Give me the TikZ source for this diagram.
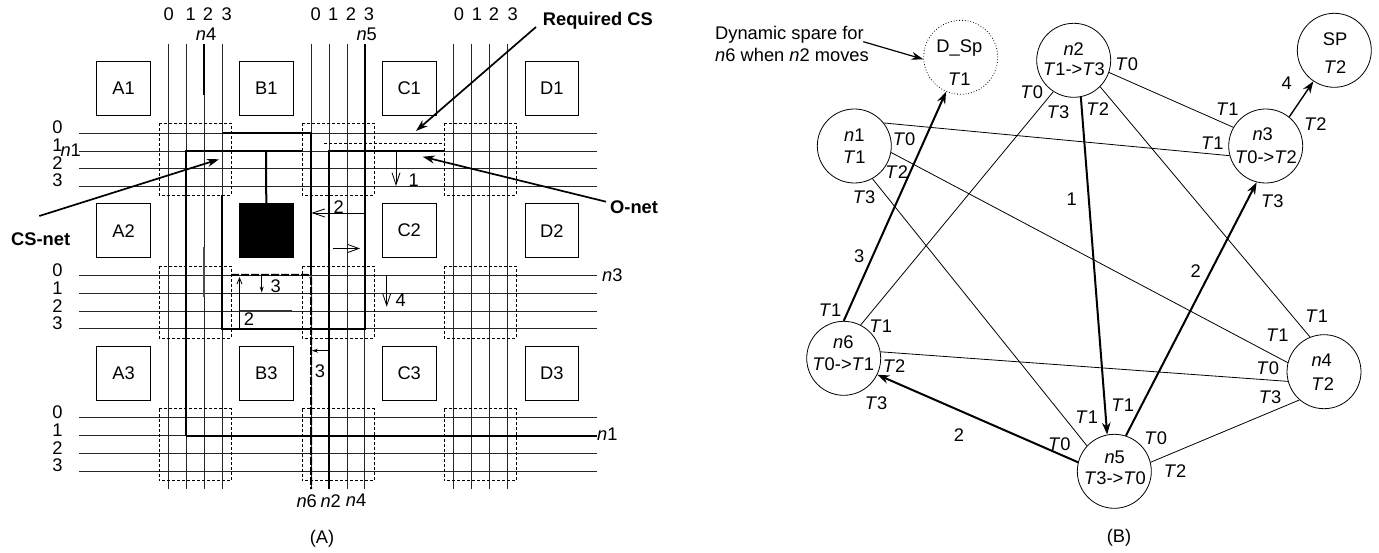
\documentclass[tikz,border=0pt]{standalone}
\usepackage{fontspec}
\setmainfont{Liberation Sans}
\usetikzlibrary{arrows.meta, positioning, calc}
\newcommand{\Tn}[1]{\textit{T}#1}
\newcommand{\nn}[1]{\textit{n}#1}
\begin{document}
\begin{tikzpicture}[x=1pt,y=-1pt,
  every node/.style={font=\fontsize{18.3}{22}\selectfont,inner sep=0pt},
  wire/.style={line width=0.9pt,black!85},
  route/.style={line width=2pt},
  sbox/.style={dashed,line width=0.7pt,dash pattern=on 3pt off 2pt},
  block/.style={draw,line width=0.9pt,minimum size=53.5pt},
  vtx/.style={draw,circle,line width=0.8pt,minimum size=74pt},
  edge/.style={line width=0.8pt},
  move/.style={-{Stealth[length=12pt,width=8.5pt]},line width=2pt},
  note/.style={-{Stealth[length=12pt,width=8pt]},line width=1.7pt},
  step arrow/.style={-{Straight Barb[length=12pt,width=8pt]},line width=0.8pt},
  tiny arrow/.style={-{Straight Barb[length=6pt,width=5pt]},line width=0.8pt},
  callout/.style={font=\fontsize{18.3}{22}\selectfont\bfseries}]
  \useasboundingbox (0,0) rectangle (1379,553);
  \foreach \px in {168,186,204,222,311,329,347,364.5,453.7,471.7,489.7,507.3}
    \draw[wire] (\px,44)--(\px,489);
  \foreach \py in {133,151,168.7,186.3,275,293,311,328.7,417.7,435.7,453.3,471}
    \draw[wire] (79,\py)--(597,\py);
  \foreach \bx in {159.3,302,444.3}
    \foreach \by in {123.3,266,408.7}
      \draw[sbox] (\bx,\by) rectangle ++(72,72);
  \foreach \nm/\cx/\cy in {A1/123.5/88.3,B1/266.3/88.3,C1/409.2/88.3,D1/551.8/88.3,
    A2/123.5/230.7,C2/409.2/230.7,D2/551.8/230.7,
    A3/123.5/373.2,B3/266.3/373.2,C3/409.2/373.2,D3/551.8/373.2}
    \node[block] (\nm) at (\cx,\cy) {\nm};
  \node[block,fill=black] (B2) at (266.3,230.7) {};
  \draw[route] (186,435.7)--(186,151)--(302,151);
  \draw[route] (186,435.7)--(597,435.7);
  \draw[route] (266,151)--(B2.north);
  \draw[route] (329,489)--(329,151)--(444,151);
  \draw[route] (222,133)--(311,133)--(311,275);
  \draw[black,dash pattern=on 8pt off 2pt,line width=2pt] (231,275)--(308,275)--(311,278)--(311,489);
  \draw[route] (222,195.3)--(222,328.7)--(364.5,328.7)--(364.5,44);
  \draw[line width=1.6pt] (204,44)--(204,95);
  \draw[line width=1.2pt,black!70] (204,247)--(204,297);
  \draw[line width=1.6pt,black!80] (240,311)--(292,311);
  \draw[line width=0.8pt,dash pattern=on 3pt off 2pt] (324,143.3)--(441.7,143.3);
  \draw[step arrow] (396,151)--(396,186);
  \draw[step arrow] (364.5,213)--(311.5,213);
  \draw[-{Straight Barb[length=11pt,width=8pt]},line width=0.8pt] (333,248.5)--(360,248.5);
  \draw[tiny arrow] (239.5,328.7)--(239.5,277);
  \draw[tiny arrow,-{Stealth[length=6pt,width=4pt]}] (261.7,275)--(261.7,292.5);
  \draw[step arrow] (386.7,275)--(386.7,306.7);
  \draw[tiny arrow,-{Stealth[length=6pt,width=4pt]}] (329,350.7)--(312,350.7);
  \foreach \nm/\cx/\cy/\tx in {s1/413.7/180/1,s2/338.7/207/2,s3/275.7/286/3,s4/249/319/2,s5/400.7/300.7/4,s6/320/371.7/3}
    \node (\nm) at (\cx,\cy) {\tx};
  \foreach \lab/\cx [count=\gi] in {0/168.7,1/190.7,2/208,3/226.7,0/315.7,1/333.3,2/351,3/369,0/459,1/477,2/494,3/512.7}
    \node (top\gi) at (\cx,14.5) {\lab};
  \foreach \gy [count=\gi from 0] in {0,143,285}
    \foreach \lab/\oy in {0/127,1/145,2/163,3/180.5}
      \node (left\gi\lab) at (57.5,{\oy+\gy}) {\lab};
  \node (lbln4) at (206,34) {\nn{4}};
  \node (lbln5) at (366.7,34) {\nn{5}};
  \node (lbln1l) at (70.7,150) {\nn{1}};
  \node[anchor=west] (lbln3) at (602,275) {\nn{3}};
  \node[anchor=west] (lbln1r) at (597,434) {\nn{1}};
  \node (lbln6) at (306.7,500.7) {\nn{6}};
  \node (lbln2) at (330.7,500.7) {\nn{2}};
  \node (lbln4b) at (356,500.7) {\nn{4}};
  \node (capA) at (322,539) {(A)};
  \node[callout,anchor=west] (csnet) at (11,239) {CS-net};
  \node[callout,anchor=west] (onet) at (610,207) {O-net};
  \node[callout,anchor=west] (reqcs) at (542.7,21) {Required CS};
  \coordinate (cstail) at (39.3,216);
  \coordinate (cstip) at (219,159.3);
  \coordinate (onettail) at (606,201.7);
  \coordinate (onettip) at (422.7,156.7);
  \coordinate (reqtail) at (536,27);
  \coordinate (reqtip) at (416,131);
  \draw[note] (cstail)--(cstip);
  \draw[note] (onettail)--(onettip);
  \draw[note] (reqtail)--(reqtip);

  \node[vtx,dotted] (dsp) at (960.7,57.3) {};
  \node[vtx] (sp) at (1334.3,50.3) {};
  \node[vtx] (n1) at (854.3,146) {};
  \node[vtx] (n2) at (1073.7,60.3) {};
  \node[vtx] (n3) at (1265.7,146) {};
  \node[vtx] (n4) at (1324,371.7) {};
  \node[vtx] (n5) at (1114.3,471.3) {};
  \node[vtx] (n6) at (843.7,358.3) {};
  \draw[edge] (n1.38)--(n3.195);
  \draw[edge] (n1.-10)--(n4.166);
  \draw[edge] (n1.-61)--(n5.137);
  \draw[edge] (n2.-19)--(n3.150);
  \draw[edge] (n2.-45)--(n4.112);
  \draw[edge] (n2.237)--(n6.63);
  \draw[edge] (n6.10)--(n4.195);
  \draw[edge] (n5.14)--(n4.229);
  \draw[move] (n6.90)--(dsp.247);
  \draw[move] (n2.-79)--(n5.101);
  \draw[move] (n5.72)--(n3.256);
  \draw[move] (n5.166)--(n6.-26);
  \draw[move,line width=1.4pt] (n3.51)--(sp.236);
  \node[anchor=west,align=left] (spare) at (715,44) {Dynamic spare for\\\nn{6} when \nn{2} moves};
  \coordinate (sparetail) at (863.3,41.7);
  \draw[note,line width=1.2pt] (sparetail)--(dsp.183);
  \foreach \cx/\cy/\tx [count=\ti] in {
    854.3/135.7/\nn{1},854.3/157.3/\Tn{1},
    959.3/48/D\_Sp,959.3/79/\Tn{1},
    1073.7/49/\nn{2},1074/69/\Tn{1}->\Tn{3},
    1335/39/SP,1335/66.7/\Tn{2},
    1262.7/134/\nn{3},1266/157.7/\Tn{0}->\Tn{2},
    843.3/342/\nn{6},843.3/364/\Tn{0}->\Tn{1},
    1114.7/457.3/\nn{5},1115/478.3/\Tn{3}->\Tn{0},
    1321.7/360/\nn{4},1322.7/384/\Tn{2}}
    \node (inner\ti) at (\cx,\cy) {\tx};
  \foreach \cx/\cy/\tx [count=\ti] in {
    904/139.3/0,896.7/171.7/2,864/197.3/3,
    1031.7/92.3/0,1058/112.7/3,1097.7/109.3/2,1126.7/64.3/0,
    1227.3/109.3/1,1212.3/143.3/1,1315.3/124.3/2,1272.3/201/3,
    830/310/1,880.7/326/1,894/366/2,876/402.7/3,1059.3/443.7/0,
    1086.7/417.3/1,1122.7/405.3/1,1155.7/438.3/0,1175/471.3/2,
    1316.7/316/1,1277.3/335/1,1267.7/368.3/0,1270/396.7/3}
    \node (port\ti) at (\cx,\cy) {\Tn{\tx}};
  \foreach \nm/\cx/\cy/\tx in {m1/1071.7/199/1,m2/1195.7/270.7/2,m3/859.3/256.7/3,m4/1286.7/83.3/4,m5/959/435/2}
    \node (\nm) at (\cx,\cy) {\tx};
  \node (capB) at (1119,537.7) {(B)};
\end{tikzpicture}
\end{document}
